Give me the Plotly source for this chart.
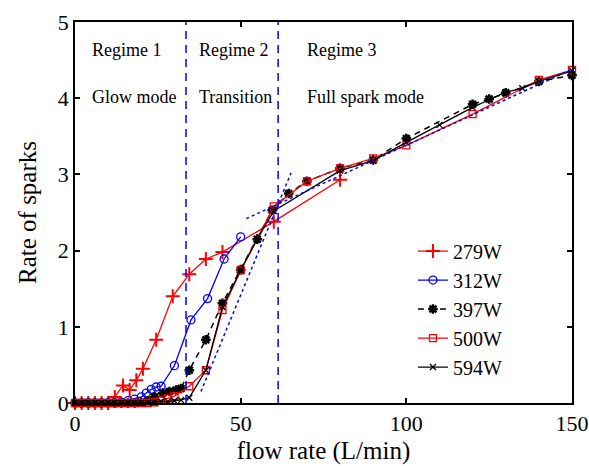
import plotly.graph_objects as go

# ---- data ----
x_279 = [0, 2, 4, 6, 8, 10, 12, 14.5, 16.5, 18.5, 20.5, 24.5, 29.5, 34.5, 39.5, 44.5, 60, 80]
y_279 = [0, 0, 0, 0, 0, 0, 0.08, 0.23, 0.17, 0.3, 0.45, 0.83, 1.40, 1.69, 1.89, 1.98, 2.38, 2.93]

x_312 = [0, 2, 4, 6, 8, 10, 12, 14, 16, 18, 20, 21.5, 23, 24.5, 26, 30, 35, 40, 45, 50]
y_312 = [0, 0, 0, 0, 0, 0, 0, 0.01, 0.03, 0.05, 0.08, 0.13, 0.18, 0.21, 0.22, 0.49, 1.09, 1.37, 1.89, 2.18]

x_397 = [0, 2, 4, 6, 8, 10, 12, 14, 16, 18, 20, 22, 24, 26.5, 28.5, 30.5, 32, 34.5, 39.5, 44.5, 50, 55, 59.5, 64.5, 70, 80, 90, 100, 120, 125, 130, 140, 150]
y_397 = [0, 0, 0, 0, 0, 0, 0, 0, 0, 0, 0.01, 0.03, 0.08, 0.13, 0.15, 0.17, 0.19, 0.43, 0.83, 1.31, 1.75, 2.15, 2.53, 2.75, 2.91, 3.08, 3.19, 3.47, 3.92, 3.99, 4.07, 4.22, 4.30]

x_500 = [0, 2, 4, 6, 8, 10, 12, 14, 16, 18, 20, 22, 24, 26, 28, 30, 34.5, 39.5, 44.5, 50, 60, 70, 80, 90, 100, 120, 140, 150]
y_500 = [0, 0, 0, 0, 0, 0, 0, 0, 0, 0, 0, 0, 0.01, 0.03, 0.06, 0.09, 0.22, 0.43, 1.22, 1.74, 2.58, 2.91, 3.08, 3.21, 3.38, 3.79, 4.24, 4.37]

x_594 = [0, 2, 4, 6, 8, 10, 12, 14, 16, 18, 20, 22, 24, 26, 28, 30, 32, 34.5, 39.5, 44.5, 50, 55, 60, 80, 90, 100, 110, 120, 125, 130, 135, 140, 150]
y_594 = [0, 0, 0, 0, 0, 0, 0, 0, 0, 0, 0, 0, 0.01, 0.02, 0.02, 0.03, 0.04, 0.07, 0.43, 1.26, 1.74, 2.15, 2.52, 3.05, 3.18, 3.42, 3.65, 3.88, 3.98, 4.08, 4.13, 4.22, 4.36]

fit_steep_x = [38, 65.2]
fit_steep_y = [0.15, 3.02]
fit_shallow_x = [51.7, 150]
fit_shallow_y = [2.42, 4.38]

regime_bounds = [33.5, 61.3]
regime_titles = ["Regime 1", "Regime 2", "Regime 3"]
regime_names = ["Glow mode", "Transition", "Full spark mode"]
regime_text_x = [4.5, 36.9, 69.5]

FONT = "Liberation Serif"

fig = go.Figure()

fig.add_trace(go.Scatter(x=x_279, y=y_279, name="279W", mode="lines+markers",
    line=dict(color="#ff0000", width=1.3),
    marker=dict(symbol="cross-thin", size=10, line=dict(color="#ff0000", width=2)),
    cliponaxis=False))
fig.add_trace(go.Scatter(x=x_312, y=y_312, name="312W", mode="lines+markers",
    line=dict(color="#0000ff", width=1.3),
    marker=dict(symbol="circle-open", size=8, color="#0000ff", line=dict(width=1.3)),
    cliponaxis=False))
fig.add_trace(go.Scatter(x=x_397, y=y_397, name="397W", mode="lines+markers",
    line=dict(color="#000000", width=1.5, dash="6px,5px"),
    marker=dict(symbol="asterisk-open", size=8, color="#000000", line=dict(color="#000000", width=2.5)),
    cliponaxis=False))
fig.add_trace(go.Scatter(x=x_500, y=y_500, name="500W", mode="lines+markers",
    line=dict(color="#ff0000", width=1.3),
    marker=dict(symbol="square-open", size=7, color="#ff0000", line=dict(width=1.3)),
    cliponaxis=False))
fig.add_trace(go.Scatter(x=x_594, y=y_594, name="594W", mode="lines+markers",
    line=dict(color="#000000", width=1.3),
    marker=dict(symbol="x-thin", size=6, line=dict(color="#000000", width=1.3)),
    cliponaxis=False))

fig.add_trace(go.Scatter(x=fit_steep_x, y=fit_steep_y, mode="lines", showlegend=False,
    line=dict(color="#0000ff", width=1.5, dash="dot")))
fig.add_trace(go.Scatter(x=fit_shallow_x, y=fit_shallow_y, mode="lines", showlegend=False,
    line=dict(color="#0000ff", width=1.5, dash="dot")))

for xb in regime_bounds:
    fig.add_shape(type="line", x0=xb, x1=xb, y0=0, y1=5, xref="x", yref="y",
                  line=dict(color="#0000ff", width=1.5, dash="8px,6px"))

for tx, t1, t2 in zip(regime_text_x, regime_titles, regime_names):
    fig.add_annotation(x=tx, y=4.63, text=t1, showarrow=False, xanchor="left", yanchor="middle",
                       font=dict(family=FONT, size=18, color="black"))
    fig.add_annotation(x=tx, y=4.02, text=t2, showarrow=False, xanchor="left", yanchor="middle",
                       font=dict(family=FONT, size=18, color="black"))

axis_common = dict(showgrid=False, zeroline=False, showline=True, linecolor="black", linewidth=1.5,
                   mirror="ticks", ticks="inside", ticklen=5, tickwidth=1.5, tickcolor="black",
                   automargin=False,
                   tickfont=dict(family=FONT, size=22, color="black"))

fig.update_xaxes(range=[0, 150], tickvals=[0, 50, 100, 150],
                 title=dict(text="flow rate (L/min)", font=dict(family=FONT, size=25, color="black"), standoff=6),
                 **axis_common)
fig.update_yaxes(range=[0, 5], tickvals=[0, 1, 2, 3, 4, 5],
                 title=dict(text="Rate of sparks", font=dict(family=FONT, size=25, color="black"), standoff=14),
                 **axis_common)

fig.update_layout(
    width=589, height=466,
    margin=dict(l=75, r=17, t=22, b=63),
    paper_bgcolor="white", plot_bgcolor="white",
    font=dict(family=FONT, color="black"),
    legend=dict(x=0.68, y=0.45, xanchor="left", yanchor="top", bgcolor="rgba(0,0,0,0)",
                font=dict(family=FONT, size=20, color="black"), tracegroupgap=0, itemwidth=30),
)

fig.write_html("out.html")
